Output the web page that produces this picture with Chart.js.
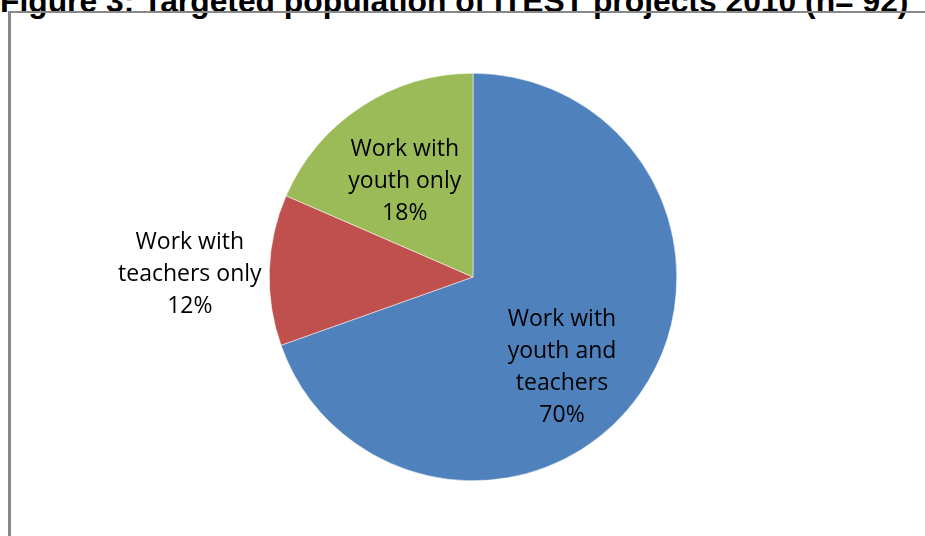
<!DOCTYPE html>
<html>
<head>
<meta charset="utf-8">
<script src="https://cdn.jsdelivr.net/npm/chart.js@4"></script>
<style>
  html, body { margin: 0; padding: 0; background: #fff; }
  #wrap { position: relative; width: 925px; height: 536px; overflow: hidden; }
  #title { position: absolute; left: 0px; top: -17px; white-space: nowrap; line-height: 31px;
           font: bold 31.8px "Liberation Sans", Arial, sans-serif; color: #000; }
  #frame { position: absolute; left: 8px; top: 11px; width: 940px; height: 560px;
           border-left: 3px solid #888; border-top: 2px solid #888; }
  #mycanvas { position: absolute; left: 0; top: 0; }
</style>
</head>
<body>
<div id="wrap">
  <div id="title">Figure 3: Targeted population of ITEST projects 2010 (n= 92)</div>
  <div id="frame"></div>
  <canvas id="mycanvas" width="925" height="536"></canvas>
</div>
<script>
var categories = [["Work with", "youth and", "teachers"], ["Work with", "teachers only"], ["Work with", "youth only"]];
var counts = [64, 11, 17];
var percents = ["70%", "12%", "18%"];
var colors = ["#4F81BD", "#C0504D", "#9BBB59"];

// label placement: fraction of radius and angle nudge (degrees) per slice
var labelPlace = [{ r: 0.62, da: 10 }, { r: 1.39, da: -1.2 }, { r: 0.58, da: -2 }];

var labelPlugin = {
  id: "sliceLabels",
  afterDatasetsDraw: function(chart) {
    var ctx = chart.ctx;
    var meta = chart.getDatasetMeta(0);
    ctx.save();
    ctx.font = "23px 'Open Sans', Lato, sans-serif";
    ctx.fillStyle = "#000";
    ctx.textAlign = "center";
    ctx.textBaseline = "middle";
    meta.data.forEach(function(arc, i) {
      var p = arc.getProps(["x", "y", "startAngle", "endAngle", "outerRadius"], true);
      var a = (p.startAngle + p.endAngle) / 2 + labelPlace[i].da * Math.PI / 180;
      var d = p.outerRadius * labelPlace[i].r;
      var cx = p.x + Math.cos(a) * d;
      var cy = p.y + Math.sin(a) * d + 1;
      var lines = categories[i].concat([percents[i]]);
      var lh = 32;
      var y0 = cy - (lines.length - 1) * lh / 2;
      lines.forEach(function(t, j) {
        ctx.fillText(t, cx, y0 + j * lh);
      });
    });
    ctx.restore();
  }
};

var ctx = document.getElementById("mycanvas");
var pieChart = new Chart(ctx, {
  type: "pie",
  data: {
    labels: categories.map(function(c) { return c.join(" "); }),
    datasets: [{
      data: counts,
      backgroundColor: colors,
      borderColor: "#ffffff",
      borderWidth: 0.5
    }]
  },
  options: {
    responsive: false,
    animation: false,
    layout: { padding: { top: 73, bottom: 55, left: 21, right: 0 } },
    plugins: {
      legend: { display: false },
      tooltip: { enabled: false },
      title: { display: false }
    }
  },
  plugins: [labelPlugin]
});
</script>
</body>
</html>
